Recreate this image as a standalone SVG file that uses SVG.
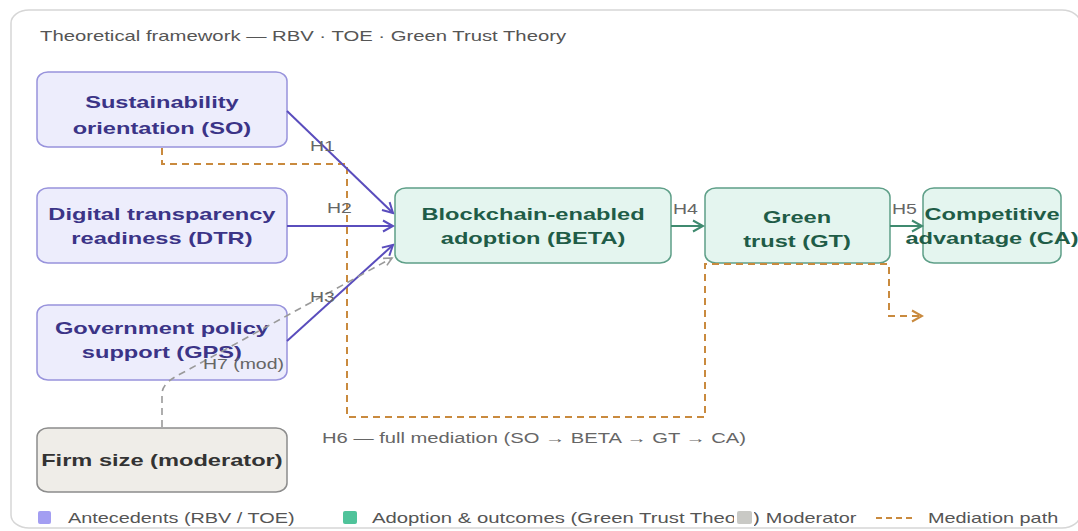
<svg xmlns="http://www.w3.org/2000/svg" width="1078" height="531" viewBox="0 0 1078 531">
<style>
text{font-family:"Liberation Sans",Arial,sans-serif}
.nt{font-size:17px;font-weight:bold;text-anchor:middle}
.ant rect{fill:#ededfc;stroke:#9893dc;stroke-width:1.5}
.ant text{fill:#3b3487}
.out rect{fill:#e4f5ef;stroke:#5e9f88;stroke-width:1.5}
.out text{fill:#1f5c47}
.mod rect{fill:#efede8;stroke:#8c8c8c;stroke-width:1.5}
.mod text{fill:#333333}
.lbl{font-size:14px;fill:#666666}
.title{font-size:14.6px;fill:#555555}
.leg{font-size:14.3px;fill:#555555}
.pu{stroke:#5a4dbd;stroke-width:2;fill:none}
.gr{stroke:#3f8a6f;stroke-width:2;fill:none}
.med{stroke:#c98a3e;stroke-width:2;fill:none;stroke-dasharray:7 5}
.md{stroke:#9a9a9a;stroke-width:1.6;fill:none;stroke-dasharray:7 5}
</style>
<defs>
<marker id="ap" markerUnits="userSpaceOnUse" markerWidth="14" markerHeight="14" refX="12" refY="7" orient="auto"><path d="M2,1.5 L12,7 L2,12.5" fill="none" stroke="#5a4dbd" stroke-width="2"/></marker>
<marker id="ag" markerUnits="userSpaceOnUse" markerWidth="14" markerHeight="14" refX="12" refY="7" orient="auto"><path d="M2,1.5 L12,7 L2,12.5" fill="none" stroke="#3f8a6f" stroke-width="2"/></marker>
<marker id="ao" markerUnits="userSpaceOnUse" markerWidth="14" markerHeight="14" refX="12" refY="7" orient="auto"><path d="M2,1.5 L12,7 L2,12.5" fill="none" stroke="#c98a3e" stroke-width="2"/></marker>
<marker id="am" markerUnits="userSpaceOnUse" markerWidth="12" markerHeight="12" refX="10" refY="6" orient="auto"><path d="M2,2 L10,6 L2,10" fill="none" stroke="#9a9a9a" stroke-width="1.6"/></marker>
</defs>
<rect x="11" y="10" width="1069" height="518" rx="18" ry="13" fill="#ffffff" stroke="#d6d6d6" stroke-width="1.5"/>
<text class="title" transform="scale(1.39 1)" x="28.8" y="41">Theoretical framework — RBV · TOE · Green Trust Theory</text>

<g id="node-so" class="ant">
<rect x="37" y="72" width="250" height="75" rx="11" ry="9"/>
<text class="nt" transform="scale(1.39 1)" x="116.5" y="108">Sustainability</text>
<text class="nt" transform="scale(1.39 1)" x="116.5" y="134">orientation (SO)</text>
</g>
<g id="node-dtr" class="ant">
<rect x="37" y="188" width="250" height="75" rx="11" ry="9"/>
<text class="nt" transform="scale(1.39 1)" x="116.5" y="220">Digital transparency</text>
<text class="nt" transform="scale(1.39 1)" x="116.5" y="244">readiness (DTR)</text>
</g>
<g id="node-gps" class="ant">
<rect x="37" y="305" width="250" height="75" rx="11" ry="9"/>
<text class="nt" transform="scale(1.39 1)" x="116.5" y="334">Government policy</text>
<text class="nt" transform="scale(1.39 1)" x="116.5" y="358">support (GPS)</text>
</g>
<g id="node-firm" class="mod">
<rect x="37" y="428" width="250" height="64" rx="11" ry="9"/>
<text class="nt" transform="scale(1.39 1)" x="116.5" y="466">Firm size (moderator)</text>
</g>
<g id="node-beta" class="out">
<rect x="395" y="188" width="276" height="75" rx="11" ry="9"/>
<text class="nt" transform="scale(1.39 1)" x="383.5" y="220">Blockchain-enabled</text>
<text class="nt" transform="scale(1.39 1)" x="383.5" y="244">adoption (BETA)</text>
</g>
<g id="node-gt" class="out">
<rect x="705" y="188" width="185" height="75" rx="11" ry="9"/>
<text class="nt" transform="scale(1.39 1)" x="573.4" y="223">Green</text>
<text class="nt" transform="scale(1.39 1)" x="573.4" y="247">trust (GT)</text>
</g>
<g id="node-ca" class="out">
<rect x="923" y="188" width="138" height="75" rx="11" ry="9"/>
<text class="nt" transform="scale(1.39 1)" x="713.7" y="220">Competitive</text>
<text class="nt" transform="scale(1.39 1)" x="713.7" y="244">advantage (CA)</text>
</g>

<g id="connectors">
<path class="med" d="M162,148 V164 H347 V417 H705 V264 H889 V316 H922" marker-end="url(#ao)"/>
<path class="pu" d="M287,111 L393,213" marker-end="url(#ap)"/>
<path class="pu" d="M287,226 L393,226" marker-end="url(#ap)"/>
<path class="pu" d="M287,341 L393,245" marker-end="url(#ap)"/>
<path class="md" d="M162,427 V394 C162,384 172,378 186,371 L392,258" marker-end="url(#am)"/>
<path class="gr" d="M671,226 L703,226" marker-end="url(#ag)"/>
<path class="gr" d="M890,226 L922,226" marker-end="url(#ag)"/>
<text class="lbl" transform="scale(1.39 1)" x="223" y="151">H1</text>
<text class="lbl" transform="scale(1.39 1)" x="235.3" y="213">H2</text>
<text class="lbl" transform="scale(1.39 1)" x="223" y="302">H3</text>
<text class="lbl" transform="scale(1.39 1)" x="484.2" y="214">H4</text>
<text class="lbl" transform="scale(1.39 1)" x="641.7" y="214">H5</text>
<text class="lbl" transform="scale(1.39 1)" x="146" y="369">H7 (mod)</text>
<text class="lbl" transform="scale(1.39 1)" x="231.7" y="443" textLength="305" lengthAdjust="spacingAndGlyphs">H6 — full mediation (SO → BETA → GT → CA)</text>
</g>

<g id="legend">
<rect x="38" y="511" width="13" height="13" rx="2" fill="#a39ef2"/>
<text class="leg" transform="scale(1.39 1)" x="48.9" y="523">Antecedents (RBV / TOE)</text>
<rect x="343" y="511" width="14" height="13" rx="2" fill="#4fc39a"/>
<text class="leg" transform="scale(1.39 1)" x="267.6" y="523" textLength="279" lengthAdjust="spacingAndGlyphs">Adoption &amp; outcomes (Green Trust Theory)</text>
<rect x="734" y="508" width="20" height="19" fill="#ffffff"/>
<rect x="737" y="511" width="15" height="13" rx="2" fill="#c9c9c5"/>
<text class="leg" transform="scale(1.39 1)" x="551" y="523">Moderator</text>
<path d="M876,518 H914" stroke="#c98a3e" stroke-width="2" stroke-dasharray="6 4" fill="none"/>
<text class="leg" transform="scale(1.39 1)" x="667.6" y="523">Mediation path</text>
</g>
</svg>
